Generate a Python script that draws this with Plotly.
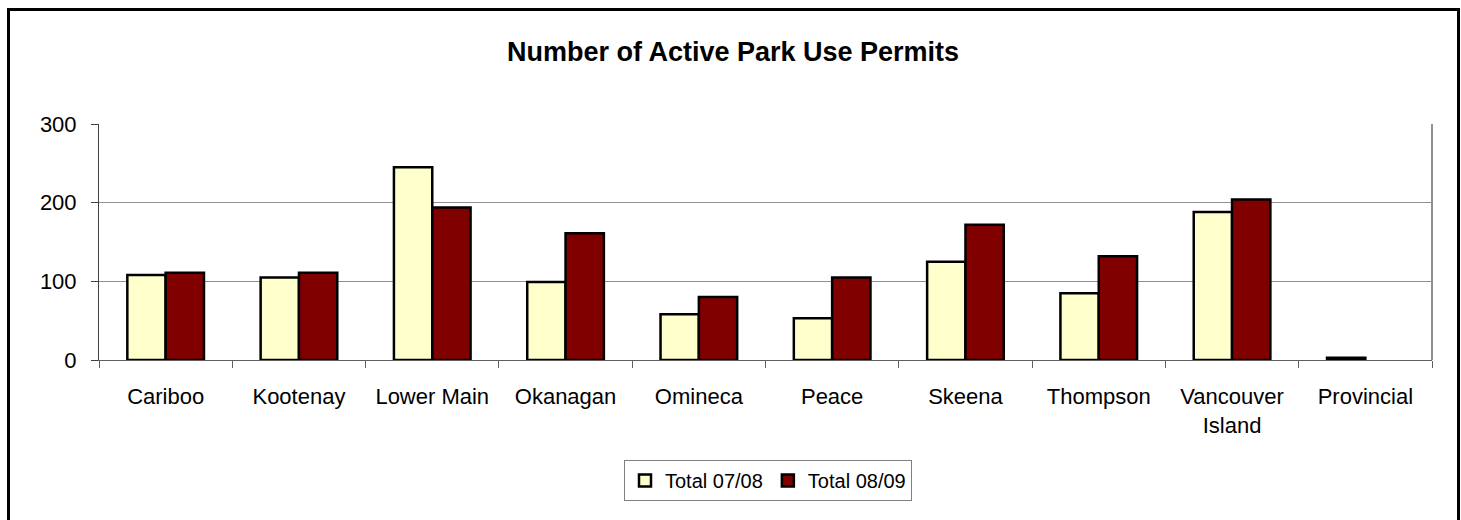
import plotly.graph_objects as go

categories = ["Cariboo", "Kootenay", "Lower Main", "Okanagan", "Omineca", "Peace",
              "Skeena", "Thompson", "Vancouver<br>Island", "Provincial"]
total_0708 = [108, 105, 245, 99, 58, 53, 125, 85, 188, 3]
total_0809 = [111, 111, 194, 161, 80, 105, 172, 132, 204, 0]
y_ticks = [0, 100, 200, 300]

FONT = "Liberation Sans, Arial, sans-serif"

def outline_widths(values):
    return [2.5 if v else 0 for v in values]

fig = go.Figure()
fig.add_trace(go.Bar(x=categories, y=total_0708, name="Total 07/08",
                     marker=dict(color="#FFFFCC",
                                 line=dict(color="black", width=outline_widths(total_0708)))))
fig.add_trace(go.Bar(x=categories, y=total_0809, name="Total 08/09",
                     marker=dict(color="#800000",
                                 line=dict(color="black", width=outline_widths(total_0809)))))

fig.update_layout(
    width=1461, height=520,
    margin=dict(l=99, r=29, t=124, b=160, pad=0),
    paper_bgcolor="white", plot_bgcolor="white",
    barmode="group", bargap=0.425, bargroupgap=0,
    font=dict(family=FONT, size=22, color="black"),
    title=dict(text="<b>Number of Active Park Use Permits</b>",
               font=dict(family=FONT, size=27, color="black"),
               x=733 / 1461, xref="container", xanchor="center",
               y=1 - 52 / 520, yref="container", yanchor="middle"),
    showlegend=True,
    legend=dict(orientation="h", x=(768 - 99) / 1333, xanchor="center",
                y=(360 - 460) / 236, yanchor="top",
                bordercolor="#808080", borderwidth=1,
                font=dict(family=FONT, size=20, color="black"),
                traceorder="normal"),
)

fig.update_xaxes(showline=True, linecolor="#606060", linewidth=1, mirror=False,
                 ticks="outside", ticklen=7, tickcolor="#606060", tickson="boundaries",
                 showgrid=False, ticklabelstandoff=17,
                 tickfont=dict(family=FONT, size=22, color="black"))
fig.update_yaxes(range=[0, 300], tickvals=y_ticks, showline=True, linecolor="#404040",
                 linewidth=1, ticks="outside", ticklen=7, tickcolor="#404040",
                 showgrid=True, gridcolor="#909090", gridwidth=1, zeroline=False,
                 ticklabelstandoff=10,
                 tickfont=dict(family=FONT, size=22, color="black"))

# plot area right border
fig.add_shape(type="line", xref="paper", yref="paper", x0=1, x1=1, y0=0, y1=1,
              line=dict(color="#909090", width=2))
# outer chart frame
fig.add_shape(type="rect", xref="paper", yref="paper",
              x0=(8.5 - 99) / 1333, x1=(1458.5 - 99) / 1333,
              y0=(360 - 524) / 236, y1=(360 - 9.5) / 236,
              line=dict(color="black", width=3), fillcolor="rgba(0,0,0,0)", layer="above")

fig.write_html("out.html", config={"displayModeBar": False},
               post_script="document.body.style.margin='0';document.body.style.padding='0';")
